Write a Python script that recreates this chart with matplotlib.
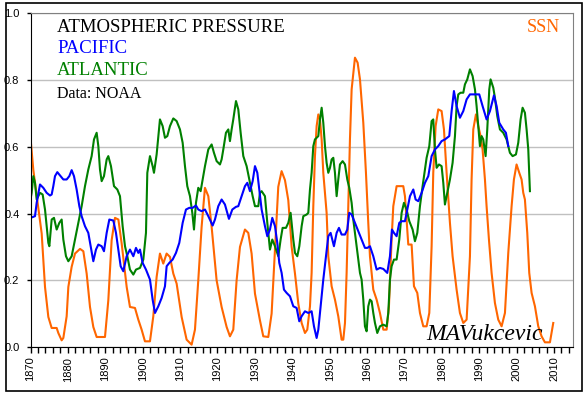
import matplotlib.pyplot as plt
from matplotlib.patches import Rectangle
from matplotlib.ticker import MultipleLocator
import numpy as np

# Sunspot number (scaled)
ssn_year = [1870.0, 1870.76, 1872.99, 1873.88, 1874.77, 1875.66, 1877.0, 1877.44, 1878.33, 1878.78,
            1879.67, 1880.12, 1881.0, 1881.9, 1883.24, 1884.13, 1885.02, 1885.91, 1886.8, 1887.69,
            1889.92, 1890.81, 1891.7, 1892.6, 1893.5, 1894.38, 1895.72, 1896.6, 1897.94, 1898.83,
            1899.72, 1900.61, 1901.95, 1902.84, 1903.73, 1904.62, 1905.51, 1906.4, 1907.3, 1908.19,
            1909.08, 1910.42, 1911.75, 1913.09, 1913.98, 1914.87, 1915.76, 1916.65, 1917.55, 1918.44,
            1919.77, 1921.11, 1922.45, 1923.34, 1924.23, 1925.12, 1926.02, 1927.35, 1928.24, 1929.13,
            1930.03, 1931.36, 1932.25, 1933.59, 1934.48, 1935.37, 1936.26, 1937.15, 1938.05, 1938.94,
            1939.84, 1940.73, 1941.62, 1942.51, 1943.4, 1944.02, 1944.74, 1945.18, 1945.63, 1946.07,
            1946.52, 1946.97, 1947.41, 1947.86, 1948.3, 1949.19, 1949.64, 1950.53, 1951.42, 1952.31,
            1953.2, 1953.65, 1954.1, 1954.54, 1954.99, 1955.43, 1955.88, 1956.77, 1957.48, 1958.11,
            1959.0, 1959.71, 1960.33, 1960.78, 1961.67, 1962.56, 1963.45, 1964.35, 1965.24, 1965.86,
            1966.57, 1967.02, 1967.91, 1969.69, 1970.14, 1970.58, 1971.03, 1971.92, 1972.55, 1973.44,
            1974.15, 1975.04, 1975.93, 1976.65, 1977.27, 1977.71, 1978.34, 1979.05, 1979.94, 1980.57,
            1981.28, 1982.17, 1982.88, 1983.95, 1984.84, 1985.74, 1986.63, 1987.52, 1987.96, 1988.41,
            1989.12, 1989.75, 1990.37, 1990.9, 1991.53, 1991.97, 1992.6, 1993.31, 1994.2, 1995.09,
            1995.99, 1996.88, 1997.77, 1998.66, 1999.28, 1999.99, 2000.71, 2001.33, 2001.78, 2002.22,
            2002.85, 2003.38, 2004.01, 2004.9, 2005.79, 2006.68, 2007.57, 2008.91, 2009.8]
ssn_val = [0.627, 0.53, 0.34, 0.18, 0.09, 0.057, 0.057, 0.042, 0.02, 0.027,
           0.092, 0.18, 0.24, 0.28, 0.294, 0.287, 0.22, 0.12, 0.06, 0.03,
           0.03, 0.14, 0.32, 0.387, 0.382, 0.31, 0.18, 0.12, 0.117, 0.082,
           0.052, 0.017, 0.017, 0.092, 0.21, 0.28, 0.25, 0.28, 0.27, 0.22,
           0.19, 0.09, 0.022, 0.007, 0.052, 0.2, 0.36, 0.477, 0.452, 0.36,
           0.2, 0.12, 0.06, 0.032, 0.052, 0.2, 0.30, 0.352, 0.342, 0.28,
           0.16, 0.08, 0.032, 0.03, 0.10, 0.29, 0.48, 0.527, 0.50, 0.44,
           0.30, 0.22, 0.13, 0.072, 0.042, 0.052, 0.122, 0.222, 0.422, 0.572,
           0.662, 0.697, 0.682, 0.622, 0.522, 0.402, 0.272, 0.182, 0.142, 0.092,
           0.022, 0.022, 0.072, 0.222, 0.422, 0.622, 0.772, 0.867, 0.852, 0.802,
           0.672, 0.522, 0.372, 0.272, 0.172, 0.142, 0.102, 0.052, 0.052, 0.122,
           0.322, 0.422, 0.482, 0.482, 0.452, 0.382, 0.307, 0.307, 0.182, 0.162,
           0.102, 0.062, 0.062, 0.102, 0.302, 0.522, 0.662, 0.712, 0.707, 0.652,
           0.522, 0.372, 0.272, 0.172, 0.102, 0.072, 0.082, 0.272, 0.502, 0.652,
           0.697, 0.662, 0.632, 0.592, 0.502, 0.422, 0.322, 0.222, 0.132, 0.082,
           0.062, 0.102, 0.282, 0.422, 0.502, 0.547, 0.522, 0.502, 0.462, 0.442,
           0.342, 0.222, 0.162, 0.122, 0.062, 0.032, 0.014, 0.014, 0.072]

# Pacific atmospheric pressure index
pac_year = [1870.0, 1871.2, 1871.65, 1872.54, 1873.43, 1874.32, 1875.21, 1875.66, 1876.1, 1876.55,
            1877.17, 1877.89, 1878.78, 1879.67, 1880.38, 1881.01, 1881.63, 1882.34, 1883.06, 1883.68,
            1884.57, 1885.46, 1886.09, 1886.8, 1887.51, 1888.14, 1889.03, 1889.65, 1890.37, 1891.08,
            1892.15, 1892.86, 1893.48, 1894.11, 1894.82, 1895.71, 1896.6, 1897.5, 1898.21, 1898.83,
            1899.28, 1899.99, 1900.88, 1901.95, 1902.66, 1903.29, 1904.18, 1905.07, 1905.96, 1906.41,
            1907.12, 1908.01, 1908.9, 1909.79, 1910.69, 1911.58, 1912.47, 1913.36, 1914.25, 1914.87,
            1915.76, 1916.66, 1917.55, 1918.71, 1919.33, 1920.22, 1921.11, 1922.0, 1923.07, 1923.97,
            1924.95, 1925.57, 1926.46, 1927.35, 1927.98, 1928.69, 1929.41, 1930.03, 1930.66, 1931.19,
            1931.81, 1932.7, 1933.33, 1934.04, 1934.66, 1935.38, 1936.0, 1936.53, 1937.16, 1937.78,
            1938.5, 1939.39, 1940.28, 1941.17, 1941.88, 1942.5, 1943.4, 1944.29, 1945.18, 1945.81,
            1946.52, 1946.97, 1947.59, 1948.3, 1949.02, 1949.64, 1950.26, 1951.15, 1951.87, 1952.49,
            1953.2, 1954.1, 1954.72, 1955.25, 1955.88, 1956.77, 1957.66, 1958.55, 1959.44, 1960.07,
            1960.78, 1961.67, 1962.56, 1963.45, 1964.35, 1965.41, 1966.13, 1966.66, 1967.2, 1967.91,
            1968.62, 1969.25, 1970.14, 1970.76, 1971.48, 1972.37, 1972.99, 1973.7, 1974.6, 1975.49,
            1976.38, 1977.27, 1978.16, 1979.05, 1979.94, 1980.83, 1981.99, 1982.62, 1983.24, 1983.95,
            1984.84, 1985.74, 1986.63, 1987.52, 1988.86, 1990.01, 1990.9, 1991.97, 1992.87, 1993.94,
            1994.65, 1995.36, 1996.43, 1997.14, 1997.77]
pac_val = [0.387, 0.392, 0.432, 0.487, 0.477, 0.462, 0.454, 0.457, 0.482, 0.512,
           0.524, 0.514, 0.502, 0.502, 0.512, 0.53, 0.512, 0.472, 0.422, 0.392,
           0.362, 0.342, 0.302, 0.257, 0.292, 0.307, 0.302, 0.287, 0.342, 0.382,
           0.379, 0.342, 0.292, 0.242, 0.227, 0.272, 0.292, 0.272, 0.297, 0.282,
           0.292, 0.252, 0.232, 0.202, 0.142, 0.102, 0.122, 0.147, 0.182, 0.242,
           0.252, 0.262, 0.282, 0.312, 0.372, 0.412, 0.417, 0.417, 0.424, 0.412,
           0.407, 0.412, 0.392, 0.364, 0.382, 0.422, 0.442, 0.427, 0.384, 0.412,
           0.42, 0.422, 0.452, 0.482, 0.492, 0.467, 0.497, 0.542, 0.522, 0.472,
           0.412, 0.362, 0.332, 0.352, 0.387, 0.362, 0.312, 0.252, 0.222, 0.172,
           0.162, 0.152, 0.122, 0.117, 0.077, 0.092, 0.107, 0.102, 0.107, 0.062,
           0.027, 0.052, 0.122, 0.202, 0.272, 0.332, 0.342, 0.302, 0.342, 0.357,
           0.337, 0.337, 0.352, 0.402, 0.397, 0.372, 0.347, 0.322, 0.297, 0.297,
           0.302, 0.272, 0.232, 0.237, 0.234, 0.222, 0.272, 0.352, 0.342, 0.332,
           0.372, 0.377, 0.377, 0.412, 0.452, 0.472, 0.442, 0.437, 0.462, 0.492,
           0.512, 0.572, 0.592, 0.602, 0.617, 0.622, 0.632, 0.707, 0.767, 0.722,
           0.687, 0.707, 0.742, 0.757, 0.757, 0.757, 0.722, 0.682, 0.707, 0.754,
           0.722, 0.672, 0.652, 0.642, 0.602]

# Atlantic atmospheric pressure index
atl_year = [1870.0, 1870.31, 1870.76, 1871.2, 1871.65, 1872.09, 1872.54, 1873.25, 1873.88, 1874.32,
            1874.77, 1875.04, 1875.66, 1876.28, 1877.0, 1877.71, 1878.33, 1878.78, 1879.49, 1880.12,
            1881.01, 1881.9, 1882.79, 1883.68, 1884.57, 1885.46, 1886.35, 1886.98, 1887.69, 1888.14,
            1888.58, 1889.03, 1889.65, 1890.37, 1890.81, 1891.52, 1892.33, 1893.22, 1893.93, 1894.64,
            1895.27, 1895.89, 1896.6, 1897.5, 1898.21, 1899.28, 1900.17, 1900.88, 1901.24, 1901.95,
            1902.66, 1903.02, 1903.73, 1904.62, 1905.34, 1905.96, 1906.59, 1907.3, 1908.19, 1909.08,
            1909.97, 1910.69, 1911.31, 1911.93, 1912.65, 1913.27, 1913.72, 1914.25, 1914.87, 1915.5,
            1916.03, 1916.66, 1917.55, 1918.44, 1919.06, 1919.78, 1920.67, 1921.11, 1921.56, 1922.27,
            1922.9, 1923.34, 1923.79, 1924.23, 1924.95, 1925.57, 1926.2, 1926.91, 1927.8, 1928.69,
            1929.41, 1930.03, 1930.92, 1931.37, 1931.81, 1932.7, 1933.33, 1934.04, 1934.66, 1935.38,
            1936.27, 1936.89, 1937.42, 1938.32, 1938.94, 1939.56, 1940.28, 1940.73, 1941.35, 1941.89,
            1942.51, 1942.96, 1943.85, 1944.29, 1944.74, 1945.18, 1945.63, 1946.07, 1946.97, 1947.41,
            1947.86, 1948.3, 1948.75, 1949.19, 1949.64, 1950.09, 1950.53, 1950.98, 1951.42, 1951.87,
            1952.31, 1952.76, 1953.47, 1954.1, 1954.72, 1955.25, 1955.88, 1956.32, 1956.77, 1957.22,
            1957.66, 1958.11, 1958.55, 1959.0, 1959.44, 1959.89, 1960.33, 1960.78, 1961.23, 1961.67,
            1962.12, 1962.74, 1963.45, 1964.35, 1965.24, 1965.68, 1966.13, 1966.57, 1967.2, 1967.91,
            1968.62, 1969.25, 1969.87, 1970.58, 1971.3, 1972.19, 1972.81, 1973.44, 1974.15, 1974.86,
            1975.49, 1975.93, 1976.65, 1977.27, 1977.71, 1978.16, 1978.61, 1979.23, 1979.94, 1980.39,
            1980.83, 1981.46, 1982.17, 1982.88, 1983.51, 1983.95, 1984.4, 1985.02, 1985.74, 1986.18,
            1986.81, 1987.52, 1988.23, 1988.86, 1989.3, 1989.75, 1990.19, 1990.64, 1991.08, 1991.71,
            1992.15, 1992.69, 1993.04, 1993.76, 1994.2, 1994.83, 1995.54, 1996.43, 1997.32, 1998.21,
            1998.93, 1999.82, 2000.44, 2001.07, 2001.6, 2002.22, 2002.67, 2003.12, 2003.38, 2003.56]
atl_val = [0.442, 0.462, 0.512, 0.492, 0.442, 0.452, 0.462, 0.457, 0.412, 0.362,
           0.312, 0.302, 0.382, 0.387, 0.352, 0.372, 0.382, 0.322, 0.272, 0.257,
           0.272, 0.322, 0.372, 0.422, 0.482, 0.532, 0.572, 0.622, 0.642, 0.602,
           0.532, 0.497, 0.512, 0.562, 0.572, 0.542, 0.482, 0.472, 0.452, 0.362,
           0.302, 0.272, 0.232, 0.217, 0.232, 0.237, 0.262, 0.342, 0.522, 0.572,
           0.542, 0.522, 0.577, 0.682, 0.662, 0.627, 0.632, 0.662, 0.685, 0.677,
           0.652, 0.612, 0.542, 0.482, 0.452, 0.402, 0.352, 0.432, 0.477, 0.467,
           0.502, 0.542, 0.592, 0.607, 0.582, 0.557, 0.547, 0.562, 0.592, 0.642,
           0.652, 0.617, 0.652, 0.682, 0.737, 0.712, 0.642, 0.572, 0.542, 0.492,
           0.452, 0.422, 0.422, 0.462, 0.467, 0.452, 0.372, 0.292, 0.322, 0.302,
           0.272, 0.322, 0.357, 0.357, 0.372, 0.402, 0.322, 0.282, 0.272, 0.302,
           0.362, 0.392, 0.397, 0.402, 0.472, 0.522, 0.602, 0.622, 0.632, 0.682,
           0.717, 0.672, 0.602, 0.552, 0.522, 0.537, 0.562, 0.567, 0.522, 0.452,
           0.502, 0.547, 0.557, 0.547, 0.502, 0.477, 0.432, 0.382, 0.342, 0.302,
           0.262, 0.222, 0.202, 0.142, 0.062, 0.047, 0.122, 0.142, 0.137, 0.102,
           0.072, 0.042, 0.062, 0.067, 0.062, 0.102, 0.202, 0.242, 0.262, 0.262,
           0.322, 0.402, 0.432, 0.412, 0.377, 0.352, 0.317, 0.342, 0.422, 0.482,
           0.532, 0.567, 0.602, 0.677, 0.682, 0.592, 0.537, 0.547, 0.542, 0.492,
           0.427, 0.462, 0.502, 0.552, 0.632, 0.722, 0.757, 0.762, 0.762, 0.787,
           0.802, 0.832, 0.812, 0.772, 0.722, 0.662, 0.602, 0.632, 0.622, 0.572,
           0.652, 0.772, 0.802, 0.777, 0.747, 0.692, 0.652, 0.642, 0.622, 0.582,
           0.572, 0.577, 0.612, 0.682, 0.717, 0.702, 0.652, 0.592, 0.522, 0.467]

x_ticks = list(range(1870, 2011, 10))
y_ticks = [0.0, 0.2, 0.4, 0.6, 0.8, 1.0]

W, H = 587, 396
fig = plt.figure(figsize=(W / 100, H / 100), dpi=100)
ax = fig.add_axes([30.5 / W, 1 - 347 / H, (572.7 - 30.5) / W, (347 - 13.3) / H])

ax.plot(ssn_year, ssn_val, color="#FF6600", lw=1.5)
ax.plot(atl_year, atl_val, color="#008000", lw=1.5)
ax.plot(pac_year, pac_val, color="#0000FF", lw=1.5)

ax.set_xlim(1870, 2015)
ax.set_ylim(0, 1)
ax.set_xticks(x_ticks)
ax.set_xticklabels([str(t) for t in x_ticks], rotation=90, family="Liberation Sans", fontsize=8)
ax.xaxis.set_minor_locator(MultipleLocator(2))
ax.set_yticks(y_ticks)
ax.set_yticklabels(["%.1f" % v for v in y_ticks], family="Liberation Sans", fontsize=8)
ax.tick_params(axis="x", which="both", direction="out", length=4, width=1, pad=3)
ax.tick_params(axis="y", length=3, width=1, pad=5)
ax.yaxis.grid(True, color="#c0c0c0", lw=1)
ax.set_axisbelow(True)
ax.spines["top"].set_color("#808080")
ax.spines["right"].set_color("#808080")
for s in ["left", "bottom"]:
    ax.spines[s].set_color("black")

# labels
serif = "Liberation Serif"
fig.text(57 / W, 1 - 31.7 / H, "ATMOSPHERIC PRESSURE", color="black", family=serif, fontsize=13.5, va="baseline")
fig.text(57 / W, 1 - 53.3 / H, "PACIFIC", color="#0000FF", family=serif, fontsize=13.5, va="baseline")
fig.text(57 / W, 1 - 75 / H, "ATLANTIC", color="#008000", family=serif, fontsize=13.5, va="baseline")
fig.text(57 / W, 1 - 98.3 / H, "Data: NOAA", color="black", family=serif, fontsize=11.5, va="baseline")
fig.text(527 / W, 1 - 32.3 / H, "SSN", color="#FF6600", family=serif, fontsize=13, va="baseline")
fig.text(426 / W, 1 - 340 / H, "MAVukcevic", color="black", family=serif, style="italic",
         fontsize=17, va="baseline")

# outer frame
fig.patches.append(Rectangle((5.5 / W, 1 - 390.5 / H), 576 / W, 387.5 / H, transform=fig.transFigure,
                             fill=False, edgecolor="black", lw=1.2))

plt.savefig("out.png", dpi=100)
